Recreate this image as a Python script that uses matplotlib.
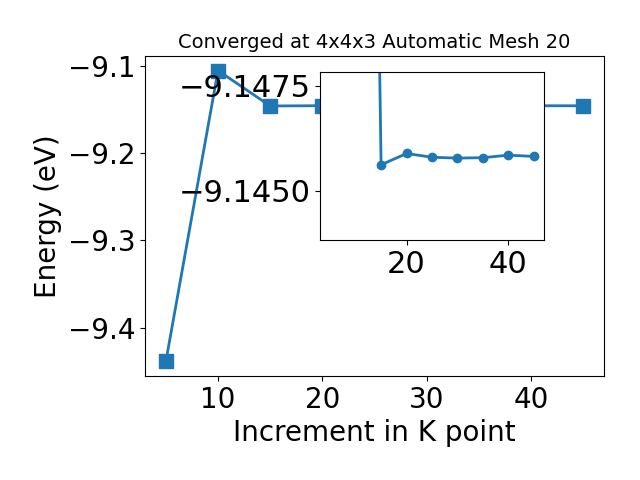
import matplotlib
matplotlib.use('Agg')
from matplotlib import pyplot as plt

# k点增量 与 能量
kpoints = [5, 10, 15, 20, 25, 30, 35, 40, 45]
energy = [-9.4385, -9.1057, -9.14621, -9.14594, -9.14603, -9.14605, -9.14604, -9.14598, -9.14601]

# 小图的y轴范围和刻度
inset_ylim = [-9.14800, -9.14400]
inset_yticks = [-9.14683, -9.14433]
inset_yticklabels = ['\u22129.1450', '\u22129.1475']

if __name__ == '__main__':
    fig, ax = plt.subplots(figsize=(6.4, 4.8), dpi=100)
    ax.plot(kpoints, energy, color='#1f77b4', marker='s', markersize=10, linewidth=2)
    ax.set_title('Converged at 4x4x3 Automatic Mesh 20', fontsize=14)
    ax.set_xlabel('Increment in K point', fontsize=20)
    ax.set_ylabel('Energy (eV)', fontsize=20)
    ax.tick_params(labelsize=20)
    fig.tight_layout()
    ax.set_position([145 / 640, 1 - 376 / 480, 459 / 640, 320 / 480])

    # 放大图 (从第二个点开始)
    ax2 = fig.add_axes([320 / 640, 1 - 240 / 480, 224 / 640, 168 / 480])
    ax2.plot(kpoints[1:], energy[1:], color='#1f77b4', marker='o', markersize=6, linewidth=2)
    ax2.set_xlim(ax.get_xlim())
    ax2.set_ylim(inset_ylim)
    ax2.set_yticks(inset_yticks)
    ax2.set_yticklabels(inset_yticklabels)
    ax2.tick_params(labelsize=22)

    plt.savefig('out.png', dpi=100)
